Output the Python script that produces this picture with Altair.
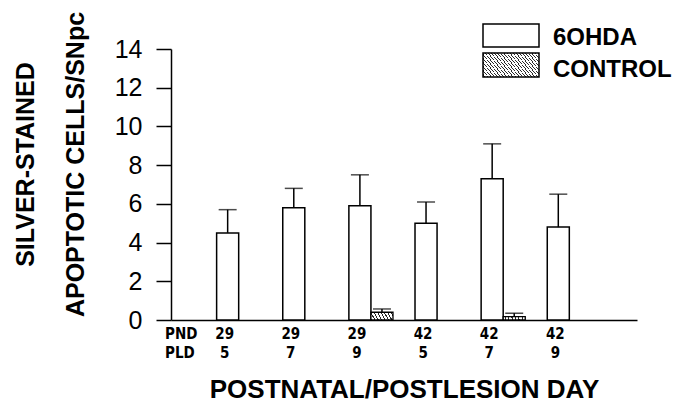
import altair as alt
import pandas as pd

# ---- data ----
groups = ["29|5", "29|7", "29|9", "42|5", "42|7", "42|9"]
series_names = ["6OHDA", "CONTROL"]
ohda_mean = [4.5, 5.8, 5.9, 5.0, 7.3, 4.8]
ohda_sem = [1.2, 1.0, 1.6, 1.1, 1.8, 1.7]
control_mean = [0.0, 0.0, 0.4, 0.0, 0.17, 0.0]
control_sem = [0.0, 0.0, 0.17, 0.0, 0.18, 0.0]
y_ticks = [0, 2, 4, 6, 8, 10, 12, 14]
y_title = ["SILVER-STAINED", "APOPTOTIC CELLS/SNpc"]
x_title = "POSTNATAL/POSTLESION DAY"
row_names = "PND\nPLD"

rows = []
for g, m, s in zip(groups, ohda_mean, ohda_sem):
    rows.append({"group": g, "series": "6OHDA", "mean": m, "sem": s})
for g, m, s in zip(groups, control_mean, control_sem):
    rows.append({"group": g, "series": "CONTROL", "mean": m, "sem": s})
df = pd.DataFrame(rows)
one = pd.DataFrame({"k": [0]})

BOLD_FONT = "Liberation Sans"
NARROW = "Liberation Sans Narrow, DejaVu Sans Condensed, Liberation Sans"


def hatch(n, dark=0.32, col="#2a2a2a"):
    stops = []
    for i in range(n):
        a = i / n
        b = (i + dark) / n
        c = (i + 1) / n
        stops += [
            alt.GradientStop(offset=a, color=col),
            alt.GradientStop(offset=b, color=col),
            alt.GradientStop(offset=b, color="white"),
            alt.GradientStop(offset=c, color="white"),
        ]
    return alt.LinearGradient(gradient="linear", stops=stops, x1=0, y1=0, x2=1, y2=1)


x_enc = alt.X(
    "group:N",
    sort=groups,
    scale=alt.Scale(domain=groups, paddingInner=0.333, paddingOuter=0.69),
    axis=alt.Axis(
        title=x_title,
        labelExpr="split(datum.label, '|')",
        labelAngle=0,
        labelFont=NARROW,
        labelFontSize=15,
        labelFontWeight="bold",
        labelLineHeight=19,
        labelOffset=-14,
        labelPadding=6,
        ticks=False,
        domainColor="black",
        domainWidth=1.5,
        titleFont=BOLD_FONT,
        titleFontSize=26,
        titleFontWeight="bold",
        titleBaseline="alphabetic",
        titleY=77,
    ),
)
xo_enc = alt.XOffset(
    "series:N", scale=alt.Scale(domain=series_names, paddingInner=0, paddingOuter=0)
)
y_axis = alt.Axis(
    title=y_title,
    values=y_ticks,
    grid=False,
    tickSize=15,
    tickWidth=1.5,
    tickColor="black",
    domainColor="black",
    domainWidth=1.5,
    labelFont=BOLD_FONT,
    labelFontSize=25,
    labelPadding=14,
    titleFont=BOLD_FONT,
    titleFontSize=25,
    titleFontWeight="bold",
    titleLineHeight=50,
    titleAngle=270,
    titleAlign="center",
    titleBaseline="alphabetic",
    titleX=-138,
    titleY=115,
)
y_scale = alt.Scale(domain=[0, 14], nice=False, zero=True)

base = alt.Chart(df).transform_calculate(upper="datum.mean + datum.sem")

bars_ohda = (
    base.transform_filter("datum.series == '6OHDA'")
    .mark_bar(fill="white", stroke="black", strokeWidth=1.5)
    .encode(x=x_enc, xOffset=xo_enc, y=alt.Y("mean:Q", scale=y_scale, axis=y_axis))
)
bars_ctrl = (
    base.transform_filter("datum.series == 'CONTROL' && datum.mean > 0")
    .mark_bar(fill=hatch(13), stroke="black", strokeWidth=1.3)
    .encode(x=x_enc, xOffset=xo_enc, y=alt.Y("mean:Q", scale=y_scale, axis=y_axis))
)
err = (
    base.transform_filter("datum.mean > 0")
    .mark_rule(color="black", strokeWidth=1.5)
    .encode(
        x=x_enc,
        xOffset=xo_enc,
        y=alt.Y("mean:Q", scale=y_scale, axis=y_axis),
        y2="upper:Q",
    )
)
caps = (
    base.transform_filter("datum.mean > 0")
    .mark_tick(color="black", size=18, thickness=1.5)
    .encode(x=x_enc, xOffset=xo_enc, y=alt.Y("upper:Q", scale=y_scale, axis=y_axis))
)

row_lbl = alt.Chart(one).mark_text(
    text=row_names, lineBreak="\n", align="left", baseline="alphabetic",
    font=NARROW, fontSize=15, fontWeight="bold", lineHeight=19, color="black",
).encode(x=alt.value(-6), y=alt.value(290))

leg_box1 = alt.Chart(one).mark_rect(fill="white", stroke="black", strokeWidth=1.5).encode(
    x=alt.value(312), x2=alt.value(368), y=alt.value(-25), y2=alt.value(-2)
)
leg_box2 = alt.Chart(one).mark_rect(fill=hatch(36), stroke="black", strokeWidth=1.5).encode(
    x=alt.value(312), x2=alt.value(368), y=alt.value(4), y2=alt.value(28)
)
leg_t1 = alt.Chart(one).mark_text(
    text=series_names[0], align="left", baseline="alphabetic",
    font=BOLD_FONT, fontSize=24, fontWeight="bold", color="black",
).encode(x=alt.value(382), y=alt.value(-4))
leg_t2 = alt.Chart(one).mark_text(
    text=series_names[1], align="left", baseline="alphabetic",
    font=BOLD_FONT, fontSize=24, fontWeight="bold", color="black",
).encode(x=alt.value(382), y=alt.value(28))

chart = (
    alt.layer(bars_ohda, bars_ctrl, err, caps, row_lbl, leg_box1, leg_box2, leg_t1, leg_t2)
    .properties(
        width=466,
        height=271,
        autosize=alt.AutoSizeParams(type="none"),
        padding={"left": 163, "top": 41, "right": 35, "bottom": 80},
        background="white",
    )
    .configure_view(stroke=None)
    .configure_axis(labelColor="black", titleColor="black")
)

chart.save("out.html", embed_options={"renderer": "svg", "actions": False})
